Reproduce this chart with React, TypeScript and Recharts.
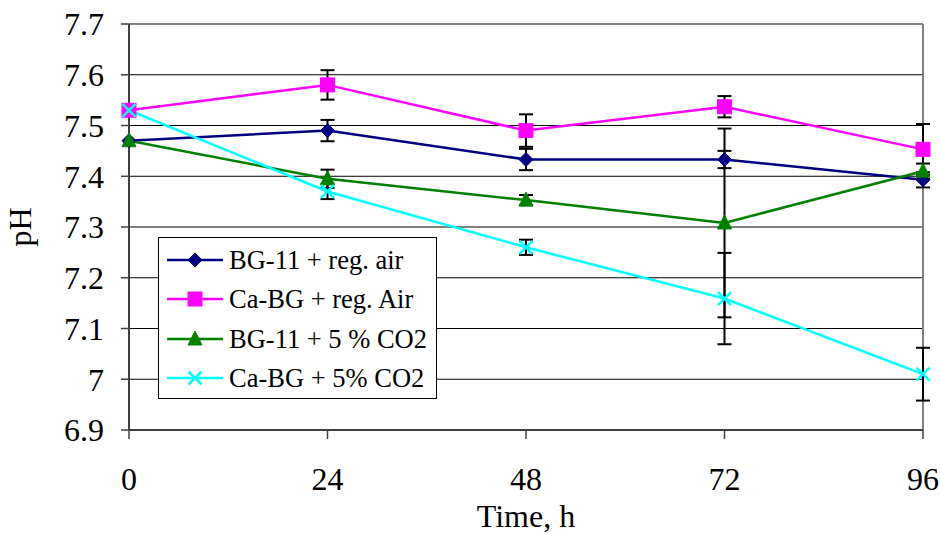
import React from 'react';
import { LineChart, Line, XAxis, YAxis, CartesianGrid, ErrorBar, Legend, ReferenceLine } from 'recharts';

const hours = [0, 24, 48, 72, 96];
const xTicks = [0, 24, 48, 72, 96];
const yTicks = [6.9, 7.0, 7.1, 7.2, 7.3, 7.4, 7.5, 7.6, 7.7];

const bgAir = [7.47, 7.49, 7.433, 7.433, 7.393];
const bgAirErr = [null, 0.021, 0.021, 0.017, 0.015];
const caAir = [7.53, 7.58, 7.49, 7.537, 7.453];
const caAirErr = [null, 0.029, 0.032, 0.021, 0.05];
const bgCO2 = [7.47, 7.395, 7.353, 7.308, 7.41];
const bgCO2Err = [null, 0.018, 0.01, 0.186, 0.015];
const caCO2 = [7.53, 7.37, 7.26, 7.159, 7.01];
const caCO2Err = [null, 0.015, 0.015, 0.09, 0.052];

const seriesNames = ['BG-11 + reg. air', 'Ca-BG + reg. Air', 'BG-11 + 5 % CO2', 'Ca-BG + 5% CO2'];
const colors = ['#000080', '#FF00FF', '#008000', '#00FFFF'];

const data = hours.map((t, i) => ({
  t,
  bgAir: bgAir[i], bgAirErr: bgAirErr[i],
  caAir: caAir[i], caAirErr: caAirErr[i],
  bgCO2: bgCO2[i], bgCO2Err: bgCO2Err[i],
  caCO2: caCO2[i], caCO2Err: caCO2Err[i],
}));

const FONT = '"Liberation Serif", "Times New Roman", serif';

function Marker({ kind, cx, cy, color }: { kind: number; cx: number; cy: number; color: string }) {
  if (kind === 0) {
    const r = 7;
    return <polygon points={`${cx},${cy - r} ${cx + r},${cy} ${cx},${cy + r} ${cx - r},${cy}`} fill={color} stroke={color} strokeWidth={1} />;
  }
  if (kind === 1) {
    const h = 7;
    return <rect x={cx - h} y={cy - h} width={2 * h} height={2 * h} fill={color} stroke={color} strokeWidth={1} />;
  }
  if (kind === 2) {
    const w = 7;
    return <polygon points={`${cx},${cy - 8} ${cx + w},${cy + 6} ${cx - w},${cy + 6}`} fill={color} stroke={color} strokeWidth={1} />;
  }
  const s = 6.5;
  return (
    <g>
      <line x1={cx - s} y1={cy - s} x2={cx + s} y2={cy + s} stroke={color} strokeWidth={2.5} />
      <line x1={cx - s} y1={cy + s} x2={cx + s} y2={cy - s} stroke={color} strokeWidth={2.5} />
    </g>
  );
}

const makeDot = (kind: number, color: string) => (props: any) => {
  const { cx, cy, key, index } = props;
  if (cx == null || cy == null || Number.isNaN(cx) || Number.isNaN(cy)) return <g key={key ?? index} />;
  return <g key={key ?? `d${kind}-${index}`}><Marker kind={kind} cx={cx} cy={cy} color={color} /></g>;
};

const LegendBox = () => (
  <div
    style={{
      width: 277,
      height: 158,
      border: '1px solid #000',
      background: '#fff',
      fontFamily: FONT,
      fontSize: 26.5,
      color: '#000',
      paddingTop: 2,
      boxSizing: 'content-box',
    }}
  >
    {seriesNames.map((name, i) => (
      <div key={name} style={{ height: 39.5, display: 'flex', alignItems: 'center', paddingLeft: 7 }}>
        <svg width={58} height={20} style={{ flex: 'none' }}>
          <line x1={1} y1={10} x2={57} y2={10} stroke={colors[i]} strokeWidth={2.5} />
          <Marker kind={i} cx={29} cy={10} color={colors[i]} />
        </svg>
        <span style={{ marginLeft: 5, whiteSpace: 'nowrap', lineHeight: '26px' }}>{name}</span>
      </div>
    ))}
  </div>
);

const fmtY = (v: number) => String(Number(v.toFixed(1)));

const XTick = (props: any) => {
  const { x, y, payload } = props;
  return (
    <text x={x} y={y} dy="0.71em" textAnchor="middle" fontFamily={FONT} fontSize={32} fill="#000" style={{ fontFamily: FONT }}>
      {payload.value}
    </text>
  );
};

const YTick = (props: any) => {
  const { x, y, payload } = props;
  return (
    <text x={x} y={y} dy="0.355em" textAnchor="end" fontFamily={FONT} fontSize={32} fill="#000" style={{ fontFamily: FONT }}>
      {fmtY(payload.value)}
    </text>
  );
};

export default function App() {
  return (
    <div style={{ position: 'absolute', left: 0, top: 0, background: '#fff', fontFamily: FONT }}>
      <LineChart width={940} height={533} data={data} margin={{ top: 24, right: 17, bottom: 0, left: 0 }} style={{ fontFamily: FONT }}>
        <CartesianGrid horizontal vertical={false} stroke="#000" strokeWidth={1} />
        <XAxis
          dataKey="t"
          type="number"
          domain={[0, 96]}
          ticks={xTicks}
          height={103}
          interval={0}
          tickSize={9}
          tickMargin={28}
          axisLine={{ stroke: '#404040', strokeWidth: 2 }}
          tickLine={{ stroke: '#404040', strokeWidth: 1.5 }}
          tick={<XTick />}
          label={{
            content: (p: any) => {
              const vb = p.viewBox;
              return (
                <text x={vb.x + vb.width / 2} y={527} textAnchor="middle" fontFamily={FONT} fontSize={32} fill="#000">
                  Time, h
                </text>
              );
            },
          }}
        />
        <YAxis
          type="number"
          domain={[6.9, 7.7]}
          ticks={yTicks}
          width={129}
          interval={0}
          tickSize={8}
          tickMargin={17}
          allowDataOverflow
          axisLine={{ stroke: '#404040', strokeWidth: 2 }}
          tickLine={{ stroke: '#404040', strokeWidth: 1.5 }}
          tick={<YTick />}
          label={{
            content: (p: any) => {
              const vb = p.viewBox;
              const cy = vb.y + vb.height / 2;
              return (
                <text x={31} y={cy} transform={`rotate(-90 31 ${cy})`} textAnchor="middle" fontFamily={FONT} fontSize={32} fill="#000">
                  pH
                </text>
              );
            },
          }}
        />
        <ReferenceLine x={96} stroke="#808080" strokeWidth={2} ifOverflow="visible" />
        <ReferenceLine y={7.7} stroke="#808080" strokeWidth={1.5} />
        <Legend
          layout="vertical"
          align="center"
          verticalAlign="middle"
          wrapperStyle={{ left: 158, top: 237, width: 279, height: 160 }}
          content={() => <LegendBox />}
        />
        <Line type="linear" dataKey="bgAir" name={seriesNames[0]} stroke={colors[0]} strokeWidth={2.5} dot={makeDot(0, colors[0])} activeDot={false} isAnimationActive={false}>
          <ErrorBar dataKey="bgAirErr" width={7} strokeWidth={2} stroke="#000" direction="y" isAnimationActive={false} />
        </Line>
        <Line type="linear" dataKey="caAir" name={seriesNames[1]} stroke={colors[1]} strokeWidth={2.5} dot={makeDot(1, colors[1])} activeDot={false} isAnimationActive={false}>
          <ErrorBar dataKey="caAirErr" width={7} strokeWidth={2} stroke="#000" direction="y" isAnimationActive={false} />
        </Line>
        <Line type="linear" dataKey="bgCO2" name={seriesNames[2]} stroke={colors[2]} strokeWidth={2.5} dot={makeDot(2, colors[2])} activeDot={false} isAnimationActive={false}>
          <ErrorBar dataKey="bgCO2Err" width={7} strokeWidth={2} stroke="#000" direction="y" isAnimationActive={false} />
        </Line>
        <Line type="linear" dataKey="caCO2" name={seriesNames[3]} stroke={colors[3]} strokeWidth={2.5} dot={makeDot(3, colors[3])} activeDot={false} isAnimationActive={false}>
          <ErrorBar dataKey="caCO2Err" width={7} strokeWidth={2} stroke="#000" direction="y" isAnimationActive={false} />
        </Line>
      </LineChart>
    </div>
  );
}
